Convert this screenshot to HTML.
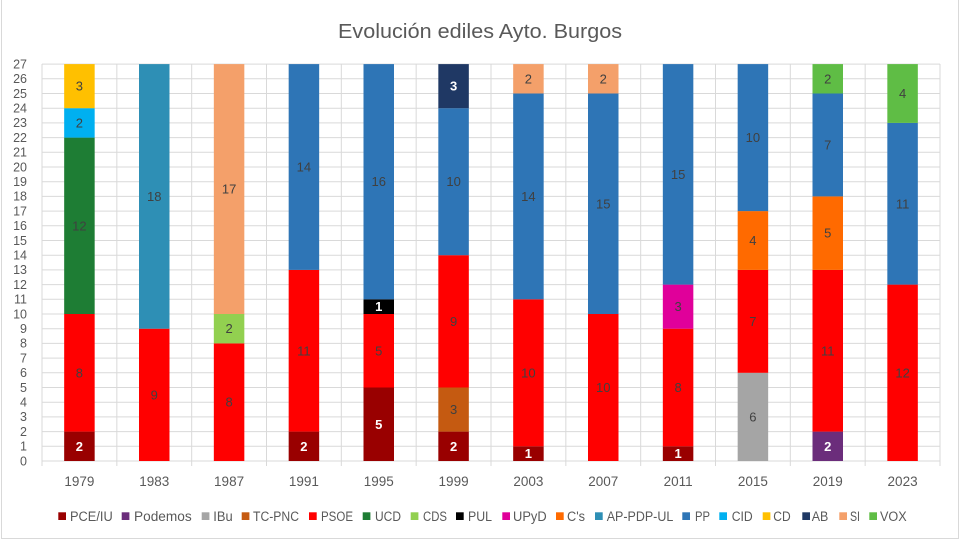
<!DOCTYPE html>
<html><head><meta charset="utf-8"><style>
html,body{margin:0;padding:0;background:#fff;}
svg{display:block;}
text{font-family:"Liberation Sans",sans-serif;}
</style></head><body>
<svg width="960" height="541" viewBox="0 0 960 541" xmlns="http://www.w3.org/2000/svg">
<rect x="0" y="0" width="960" height="541" fill="#fff"/>
<path d="M1.5 0 V538.5 H958.5 V0" fill="none" stroke="#d9d9d9" stroke-width="1"/>
<text x="480" y="38" font-size="20" fill="#595959" text-anchor="middle" textLength="284" lengthAdjust="spacingAndGlyphs">Evolución ediles Ayto. Burgos</text>
<g stroke="#d9d9d9" stroke-width="1">
<line x1="42" x2="940" y1="461" y2="461"/>
<line x1="42" x2="940" y1="446.3" y2="446.3"/>
<line x1="42" x2="940" y1="431.6" y2="431.6"/>
<line x1="42" x2="940" y1="416.9" y2="416.9"/>
<line x1="42" x2="940" y1="402.2" y2="402.2"/>
<line x1="42" x2="940" y1="387.5" y2="387.5"/>
<line x1="42" x2="940" y1="372.8" y2="372.8"/>
<line x1="42" x2="940" y1="358.1" y2="358.1"/>
<line x1="42" x2="940" y1="343.4" y2="343.4"/>
<line x1="42" x2="940" y1="328.7" y2="328.7"/>
<line x1="42" x2="940" y1="314" y2="314"/>
<line x1="42" x2="940" y1="299.3" y2="299.3"/>
<line x1="42" x2="940" y1="284.6" y2="284.6"/>
<line x1="42" x2="940" y1="269.9" y2="269.9"/>
<line x1="42" x2="940" y1="255.2" y2="255.2"/>
<line x1="42" x2="940" y1="240.5" y2="240.5"/>
<line x1="42" x2="940" y1="225.8" y2="225.8"/>
<line x1="42" x2="940" y1="211.1" y2="211.1"/>
<line x1="42" x2="940" y1="196.4" y2="196.4"/>
<line x1="42" x2="940" y1="181.7" y2="181.7"/>
<line x1="42" x2="940" y1="167" y2="167"/>
<line x1="42" x2="940" y1="152.3" y2="152.3"/>
<line x1="42" x2="940" y1="137.6" y2="137.6"/>
<line x1="42" x2="940" y1="122.9" y2="122.9"/>
<line x1="42" x2="940" y1="108.2" y2="108.2"/>
<line x1="42" x2="940" y1="93.5" y2="93.5"/>
<line x1="42" x2="940" y1="78.8" y2="78.8"/>
<line x1="42" x2="940" y1="64.1" y2="64.1"/>
<line x1="42" x2="42" y1="64" y2="466"/>
<line x1="116.83" x2="116.83" y1="64" y2="466"/>
<line x1="191.67" x2="191.67" y1="64" y2="466"/>
<line x1="266.5" x2="266.5" y1="64" y2="466"/>
<line x1="341.33" x2="341.33" y1="64" y2="466"/>
<line x1="416.17" x2="416.17" y1="64" y2="466"/>
<line x1="491" x2="491" y1="64" y2="466"/>
<line x1="565.83" x2="565.83" y1="64" y2="466"/>
<line x1="640.67" x2="640.67" y1="64" y2="466"/>
<line x1="715.5" x2="715.5" y1="64" y2="466"/>
<line x1="790.33" x2="790.33" y1="64" y2="466"/>
<line x1="865.17" x2="865.17" y1="64" y2="466"/>
<line x1="940" x2="940" y1="64" y2="466"/>
</g>
<g font-size="12.5" fill="#595959" text-anchor="end">
<text x="27" y="465.3">0</text>
<text x="27" y="450.6">1</text>
<text x="27" y="435.9">2</text>
<text x="27" y="421.2">3</text>
<text x="27" y="406.5">4</text>
<text x="27" y="391.8">5</text>
<text x="27" y="377.1">6</text>
<text x="27" y="362.4">7</text>
<text x="27" y="347.7">8</text>
<text x="27" y="333">9</text>
<text x="27" y="318.3">10</text>
<text x="27" y="303.6">11</text>
<text x="27" y="288.9">12</text>
<text x="27" y="274.2">13</text>
<text x="27" y="259.5">14</text>
<text x="27" y="244.8">15</text>
<text x="27" y="230.1">16</text>
<text x="27" y="215.4">17</text>
<text x="27" y="200.7">18</text>
<text x="27" y="186">19</text>
<text x="27" y="171.3">20</text>
<text x="27" y="156.6">21</text>
<text x="27" y="141.9">22</text>
<text x="27" y="127.2">23</text>
<text x="27" y="112.5">24</text>
<text x="27" y="97.8">25</text>
<text x="27" y="83.1">26</text>
<text x="27" y="68.4">27</text>
</g>
<!-- Bars -->
<g>
<!-- 1979 -->
<rect x="64.17" y="431.6" width="30.5" height="29.4" fill="#990000"/>
<rect x="64.17" y="314" width="30.5" height="117.6" fill="#ff0000"/>
<rect x="64.17" y="137.6" width="30.5" height="176.4" fill="#1e7d34"/>
<rect x="64.17" y="108.2" width="30.5" height="29.4" fill="#00b0f0"/>
<rect x="64.17" y="64.1" width="30.5" height="44.1" fill="#ffc000"/>
<!-- 1983 -->
<rect x="139" y="328.7" width="30.5" height="132.3" fill="#ff0000"/>
<rect x="139" y="64.1" width="30.5" height="264.6" fill="#2e8fb5"/>
<!-- 1987 -->
<rect x="213.83" y="343.4" width="30.5" height="117.6" fill="#ff0000"/>
<rect x="213.83" y="314" width="30.5" height="29.4" fill="#92d050"/>
<rect x="213.83" y="64.1" width="30.5" height="249.9" fill="#f4a06a"/>
<!-- 1991 -->
<rect x="288.67" y="431.6" width="30.5" height="29.4" fill="#990000"/>
<rect x="288.67" y="269.9" width="30.5" height="161.7" fill="#ff0000"/>
<rect x="288.67" y="64.1" width="30.5" height="205.8" fill="#2e75b6"/>
<!-- 1995 -->
<rect x="363.5" y="387.5" width="30.5" height="73.5" fill="#990000"/>
<rect x="363.5" y="314" width="30.5" height="73.5" fill="#ff0000"/>
<rect x="363.5" y="299.3" width="30.5" height="14.7" fill="#000000"/>
<rect x="363.5" y="64.1" width="30.5" height="235.2" fill="#2e75b6"/>
<!-- 1999 -->
<rect x="438.33" y="431.6" width="30.5" height="29.4" fill="#990000"/>
<rect x="438.33" y="387.5" width="30.5" height="44.1" fill="#c55a11"/>
<rect x="438.33" y="255.2" width="30.5" height="132.3" fill="#ff0000"/>
<rect x="438.33" y="108.2" width="30.5" height="147" fill="#2e75b6"/>
<rect x="438.33" y="64.1" width="30.5" height="44.1" fill="#1f3864"/>
<!-- 2003 -->
<rect x="513.17" y="446.3" width="30.5" height="14.7" fill="#990000"/>
<rect x="513.17" y="299.3" width="30.5" height="147" fill="#ff0000"/>
<rect x="513.17" y="93.5" width="30.5" height="205.8" fill="#2e75b6"/>
<rect x="513.17" y="64.1" width="30.5" height="29.4" fill="#f4a06a"/>
<!-- 2007 -->
<rect x="588" y="314" width="30.5" height="147" fill="#ff0000"/>
<rect x="588" y="93.5" width="30.5" height="220.5" fill="#2e75b6"/>
<rect x="588" y="64.1" width="30.5" height="29.4" fill="#f4a06a"/>
<!-- 2011 -->
<rect x="662.83" y="446.3" width="30.5" height="14.7" fill="#990000"/>
<rect x="662.83" y="328.7" width="30.5" height="117.6" fill="#ff0000"/>
<rect x="662.83" y="284.6" width="30.5" height="44.1" fill="#e0009a"/>
<rect x="662.83" y="64.1" width="30.5" height="220.5" fill="#2e75b6"/>
<!-- 2015 -->
<rect x="737.67" y="372.8" width="30.5" height="88.2" fill="#a5a5a5"/>
<rect x="737.67" y="269.9" width="30.5" height="102.9" fill="#ff0000"/>
<rect x="737.67" y="211.1" width="30.5" height="58.8" fill="#ff6a00"/>
<rect x="737.67" y="64.1" width="30.5" height="147" fill="#2e75b6"/>
<!-- 2019 -->
<rect x="812.5" y="431.6" width="30.5" height="29.4" fill="#6b2d7b"/>
<rect x="812.5" y="269.9" width="30.5" height="161.7" fill="#ff0000"/>
<rect x="812.5" y="196.4" width="30.5" height="73.5" fill="#ff6a00"/>
<rect x="812.5" y="93.5" width="30.5" height="102.9" fill="#2e75b6"/>
<rect x="812.5" y="64.1" width="30.5" height="29.4" fill="#5fbd45"/>
<!-- 2023 -->
<rect x="887.33" y="284.6" width="30.5" height="176.4" fill="#ff0000"/>
<rect x="887.33" y="122.9" width="30.5" height="161.7" fill="#2e75b6"/>
<rect x="887.33" y="64.1" width="30.5" height="58.8" fill="#5fbd45"/>
</g>
<!-- Data labels dark -->
<g font-size="13" fill="#404040" text-anchor="middle">
<text x="79.42" y="377.3">8</text>
<text x="79.42" y="230.3">12</text>
<text x="79.42" y="127.4">2</text>
<text x="79.42" y="90.65">3</text>
<text x="154.25" y="399.35">9</text>
<text x="154.25" y="200.9">18</text>
<text x="229.08" y="406.7">8</text>
<text x="229.08" y="333.2">2</text>
<text x="229.08" y="193.55">17</text>
<text x="303.92" y="355.25">11</text>
<text x="303.92" y="171.5">14</text>
<text x="378.75" y="355.25">5</text>
<text x="378.75" y="186.2">16</text>
<text x="453.58" y="414.05">3</text>
<text x="453.58" y="325.85">9</text>
<text x="453.58" y="186.2">10</text>
<text x="528.42" y="377.3">10</text>
<text x="528.42" y="200.9">14</text>
<text x="528.42" y="83.3">2</text>
<text x="603.25" y="392">10</text>
<text x="603.25" y="208.25">15</text>
<text x="603.25" y="83.3">2</text>
<text x="678.08" y="392">8</text>
<text x="678.08" y="311.15">3</text>
<text x="678.08" y="178.85">15</text>
<text x="752.92" y="421.4">6</text>
<text x="752.92" y="325.85">7</text>
<text x="752.92" y="245">4</text>
<text x="752.92" y="142.1">10</text>
<text x="827.75" y="355.25">11</text>
<text x="827.75" y="237.65">5</text>
<text x="827.75" y="149.45">7</text>
<text x="827.75" y="83.3">2</text>
<text x="902.58" y="377.3">12</text>
<text x="902.58" y="208.25">11</text>
<text x="902.58" y="98">4</text>
</g>
<!-- Data labels white -->
<g font-size="13" fill="#ffffff" font-weight="bold" text-anchor="middle">
<text x="79.42" y="450.8">2</text>
<text x="303.92" y="450.8">2</text>
<text x="378.75" y="428.75">5</text>
<text x="378.75" y="311.15">1</text>
<text x="453.58" y="450.8">2</text>
<text x="453.58" y="90.65">3</text>
<text x="528.42" y="458.15">1</text>
<text x="678.08" y="458.15">1</text>
<text x="827.75" y="450.8">2</text>
</g>
<!-- X labels -->
<g font-size="13.5" fill="#595959" text-anchor="middle">
<text x="79.42" y="486">1979</text>
<text x="154.25" y="486">1983</text>
<text x="229.08" y="486">1987</text>
<text x="303.92" y="486">1991</text>
<text x="378.75" y="486">1995</text>
<text x="453.58" y="486">1999</text>
<text x="528.42" y="486">2003</text>
<text x="603.25" y="486">2007</text>
<text x="678.08" y="486">2011</text>
<text x="752.92" y="486">2015</text>
<text x="827.75" y="486">2019</text>
<text x="902.58" y="486">2023</text>
</g>
<!-- Legend -->
<g>
<rect x="58.3" y="512.3" width="7.7" height="7.7" fill="#990000"/>
<rect x="121.7" y="512.3" width="7.7" height="7.7" fill="#6b2d7b"/>
<rect x="201.7" y="512.3" width="7.7" height="7.7" fill="#a5a5a5"/>
<rect x="241.7" y="512.3" width="7.7" height="7.7" fill="#c55a11"/>
<rect x="309" y="512.3" width="7.7" height="7.7" fill="#ff0000"/>
<rect x="362.7" y="512.3" width="7.7" height="7.7" fill="#1e7d34"/>
<rect x="410.7" y="512.3" width="7.7" height="7.7" fill="#92d050"/>
<rect x="456" y="512.3" width="7.7" height="7.7" fill="#000000"/>
<rect x="502.3" y="512.3" width="7.7" height="7.7" fill="#e0009a"/>
<rect x="556" y="512.3" width="7.7" height="7.7" fill="#ff6a00"/>
<rect x="595" y="512.3" width="7.7" height="7.7" fill="#2e8fb5"/>
<rect x="682.3" y="512.3" width="7.7" height="7.7" fill="#2e75b6"/>
<rect x="719.3" y="512.3" width="7.7" height="7.7" fill="#00b0f0"/>
<rect x="762.7" y="512.3" width="7.7" height="7.7" fill="#ffc000"/>
<rect x="802.3" y="512.3" width="7.7" height="7.7" fill="#1f3864"/>
<rect x="839.3" y="512.3" width="7.7" height="7.7" fill="#f4a06a"/>
<rect x="869.3" y="512.3" width="7.7" height="7.7" fill="#5fbd45"/>
</g>
<g font-size="13.5" fill="#595959">
<text x="70" y="521" textLength="42.7" lengthAdjust="spacingAndGlyphs">PCE/IU</text>
<text x="134" y="521" textLength="57.7" lengthAdjust="spacingAndGlyphs">Podemos</text>
<text x="213.3" y="521" textLength="19.4" lengthAdjust="spacingAndGlyphs">IBu</text>
<text x="253" y="521" textLength="46" lengthAdjust="spacingAndGlyphs">TC-PNC</text>
<text x="321" y="521" textLength="32" lengthAdjust="spacingAndGlyphs">PSOE</text>
<text x="375" y="521" textLength="26" lengthAdjust="spacingAndGlyphs">UCD</text>
<text x="423" y="521" textLength="24" lengthAdjust="spacingAndGlyphs">CDS</text>
<text x="468" y="521" textLength="24" lengthAdjust="spacingAndGlyphs">PUL</text>
<text x="513" y="521" textLength="33.7" lengthAdjust="spacingAndGlyphs">UPyD</text>
<text x="567" y="521" textLength="18" lengthAdjust="spacingAndGlyphs">C's</text>
<text x="606.7" y="521" textLength="66.6" lengthAdjust="spacingAndGlyphs">AP-PDP-UL</text>
<text x="695" y="521" textLength="15" lengthAdjust="spacingAndGlyphs">PP</text>
<text x="731.7" y="521" textLength="21" lengthAdjust="spacingAndGlyphs">CID</text>
<text x="773.3" y="521" textLength="17.4" lengthAdjust="spacingAndGlyphs">CD</text>
<text x="811.7" y="521" textLength="16.6" lengthAdjust="spacingAndGlyphs">AB</text>
<text x="850" y="521" textLength="10" lengthAdjust="spacingAndGlyphs">SI</text>
<text x="880" y="521" textLength="26.7" lengthAdjust="spacingAndGlyphs">VOX</text>
</g>
</svg>
</body></html>
